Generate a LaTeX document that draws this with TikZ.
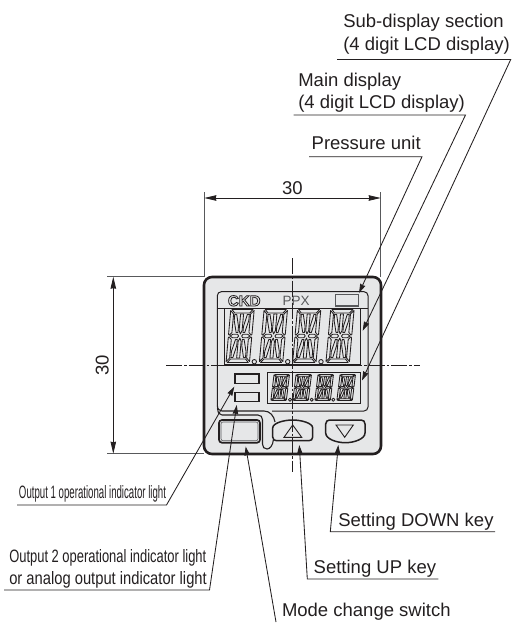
\documentclass[tikz,border=0pt]{standalone}
\usepackage{fontspec}
\setmainfont{Liberation Sans}
\usetikzlibrary{arrows.meta}
\definecolor{ink}{HTML}{231F20}
\definecolor{panel}{HTML}{E6E7E8}
\definecolor{soft}{HTML}{58595B}
\tikzset{
  leader/.style={draw=ink,line width=0.85pt,line join=miter},
  tiparrow/.style={-{Stealth[length=9pt,width=5.5pt,inset=0.5pt]}},
  dimline/.style={draw=ink,line width=0.85pt,{Stealth[length=12pt,width=5.5pt,inset=0.5pt]}-{Stealth[length=12pt,width=5.5pt,inset=0.5pt]}},
  witness/.style={draw=soft,line width=1pt},
  centerline/.style={draw=ink,line width=0.85pt,dash pattern=on 16pt off 2pt on 2.5pt off 2pt},
  lbl/.style={inner sep=0pt,outer sep=0pt,anchor=base west,text=ink,font=\fontsize{18.5}{22}\selectfont},
  seg/.style={draw=ink,line width=0.85pt,line join=round},
}
\newcommand{\segdigit}[4]{%
\begin{scope}[shift={(#1,#2)},xscale=#3,yscale=#4,xslant=0.09]
\draw[seg] (2,0)--(23,0)--(20,3.5)--(5,3.5)--cycle;
\draw[seg] (2,53)--(23,53)--(20,49.5)--(5,49.5)--cycle;
\draw[seg] (0.8,1)--(4,4.5)--(4,23)--(1.6,25.6)--(0.8,24.8)--cycle;
\draw[seg] (24.2,1)--(21,4.5)--(21,23)--(23.4,25.6)--(24.2,24.8)--cycle;
\draw[seg] (0.8,52)--(4,48.5)--(4,30)--(1.6,27.4)--(0.8,28.2)--cycle;
\draw[seg] (24.2,52)--(21,48.5)--(21,30)--(23.4,27.4)--(24.2,28.2)--cycle;
\draw[seg] (2.6,26.5)--(5,24.8)--(9.8,24.8)--(11,26.5)--(9.8,28.2)--(5,28.2)--cycle;
\draw[seg] (22.4,26.5)--(20,24.8)--(15.2,24.8)--(14,26.5)--(15.2,28.2)--(20,28.2)--cycle;
\draw[seg] (11,4.5)--(14,4.5)--(14,21)--(12.5,24.5)--(11,21)--cycle;
\draw[seg] (11,48.5)--(14,48.5)--(14,32)--(12.5,28.5)--(11,32)--cycle;
\draw[seg] (5.2,5)--(7.2,5)--(10,17)--(10,23)--(8.2,23)--(5.2,11)--cycle;
\draw[seg] (19.8,5)--(17.8,5)--(15,17)--(15,23)--(16.8,23)--(19.8,11)--cycle;
\draw[seg] (5.2,48)--(7.2,48)--(10,36)--(10,30)--(8.2,30)--(5.2,42)--cycle;
\draw[seg] (19.8,48)--(17.8,48)--(15,36)--(15,30)--(16.8,30)--(19.8,42)--cycle;
\end{scope}}
\begin{document}
\begin{tikzpicture}[x=1pt,y=-1pt]
\useasboundingbox (0,0) rectangle (514,623);
% body
\draw[fill=panel,draw=ink,line width=2.6pt,rounded corners=8pt] (204,277) rectangle (381,454);
% panel
\draw[draw=ink,line width=1pt,rounded corners=4pt] (217.3,405) -- (217.3,291.7) -- (368,291.7) -- (368,411) -- (272,411);
\draw[draw=ink,line width=1pt] (217.3,308.3) -- (368,308.3);
% tab around mode key
\draw[draw=ink,line width=1.1pt] (217.3,405) .. controls (217.3,409) and (219,411) .. (222,411) -- (264,411) .. controls (270,411) and (274,416) .. (275,422);
\draw[draw=ink,line width=1.1pt] (217.5,408) .. controls (218,413) and (219,415) .. (222,415) -- (258,415) .. controls (261,415) and (262.5,417) .. (262.5,420) -- (262.5,444) .. controls (262.5,447) and (264,449) .. (267,449) .. controls (270,449) and (273,445) .. (273.3,440);
% main display
\draw[draw=ink,line width=1.2pt] (224.3,308.3) rectangle (360.7,365);
\foreach \n in {0,1,2,3} {\segdigit{230+33.3*\n}{309.5}{1}{1}}
\foreach \x in {254.3,287.7,321} {\draw[seg,fill=panel] (\x,361.7) circle[radius=2.2pt];}
% sub display
\draw[draw=ink,line width=1.1pt] (267.7,372.3) rectangle (360.7,403.7);
\foreach \n in {0,1,2,3} {\segdigit{273.5+22*\n}{374.5}{0.66}{0.49}}
\foreach \x in {290,311.7,333.3} {\draw[seg,fill=panel] (\x,399.7) circle[radius=1.6pt];}
% indicator lights
\draw[draw=ink,line width=1.3pt] (235,374) rectangle (259,383.3);
\draw[draw=ink,line width=1.3pt] (235,392.3) rectangle (259,401.3);
% unit box
\draw[draw=soft,line width=1.4pt] (335.7,294.3) rectangle (358.3,306);
% keys
\draw[draw=ink,line width=1.7pt,rounded corners=3pt] (219,420) rectangle (260,442.7);
\draw[draw=soft,line width=0.6pt,rounded corners=2pt] (221,422) rectangle (258,440.7);
\draw[draw=ink,line width=1.5pt] (272.7,428) .. controls (272.7,423) and (284,420) .. (292.7,420) .. controls (301,420) and (312.7,423) .. (312.7,428) -- (312.7,437) .. controls (312.7,439.5) and (311,440.7) .. (309,440.7) -- (276.5,440.7) .. controls (274.5,440.7) and (272.7,439.5) .. (272.7,437) -- cycle;
\draw[draw=ink,line width=0.9pt] (284,437.3) -- (292.7,425) -- (301.7,437.3) -- cycle;
\draw[draw=ink,line width=1.5pt] (325.7,424) .. controls (325.7,421.5) and (327.5,420) .. (329.5,420) -- (361,420) .. controls (363.5,420) and (365,421.5) .. (365,424) -- (365,433) .. controls (365,439) and (354,442.7) .. (345.3,442.7) .. controls (336.5,442.7) and (325.7,439) .. (325.7,433) -- cycle;
\draw[draw=ink,line width=0.9pt] (336,425) -- (353.3,425) -- (344.7,437.3) -- cycle;
% CKD and PPX
\node[lbl,font=\fontsize{15}{17}\bfseries\selectfont] (ckd) at (228,306) {\special{pdf:code 1 Tr 0.8 w}CKD\special{pdf:code 0 Tr 0.4 w}};
\node[lbl,text=soft,font=\fontsize{13.5}{15}\selectfont] (ppx) at (282.5,305) {PPX};
% centre lines
\coordinate (ct) at (292.3,258); \coordinate (cb) at (292.3,472);
\coordinate (cl) at (166,365); \coordinate (cr) at (420,365);
\draw[centerline] (ct) -- (cb);
\draw[centerline] (cl) -- (cr);
% dimensions
\coordinate (wa1) at (204.3,192); \coordinate (wa2) at (204.3,277);
\coordinate (wb1) at (380.7,192); \coordinate (wb2) at (380.7,277);
\coordinate (wc1) at (107,276.7); \coordinate (wc2) at (204,276.7);
\coordinate (wd1) at (107,453.7); \coordinate (wd2) at (204,453.7);
\draw[witness] (wa1) -- (wa2);
\draw[witness] (wb1) -- (wb2);
\draw[witness] (wc1) -- (wc2);
\draw[witness] (wd1) -- (wd2);
\coordinate (da) at (204.3,198); \coordinate (db) at (380.7,198);
\coordinate (dc) at (113.3,276.7); \coordinate (dd) at (113.3,453.7);
\draw[dimline] (da) -- (db);
\draw[dimline] (dc) -- (dd);
\node[lbl,anchor=base] (dimh) at (292.3,194) {30};
\node[lbl,anchor=base,rotate=90] (dimv) at (108.5,365) {30};
% labels
\node[lbl] (t1) at (343.3,27.3) {Sub-display section};
\node[lbl] (t2) at (343.3,50.7) {(4 digit LCD display)};
\node[lbl] (t3) at (298.3,86.7) {Main display};
\node[lbl] (t4) at (298.3,108.3) {(4 digit LCD display)};
\node[lbl] (t5) at (311.7,149) {Pressure unit};
\node[lbl] (t6) at (338.3,526) {Setting DOWN key};
\node[lbl] (t7) at (313.7,573.3) {Setting UP key};
\node[lbl] (t8) at (282,616.7) {Mode change switch};
\node[lbl] (t9) at (19,498.3) {\resizebox{147pt}{13pt}{Output 1 operational indicator light}};
\node[lbl] (t10) at (9.3,562.7) {\resizebox{197pt}{13pt}{Output 2 operational indicator light}};
\node[lbl] (t11) at (9.3,584.3) {\resizebox{197.5pt}{13pt}{or analog output indicator light}};
% leaders
\coordinate (a1) at (337,59.5); \coordinate (a2) at (510.7,59.5); \coordinate (a3) at (362,380.5);
\coordinate (b1) at (293.5,115); \coordinate (b2) at (465.5,115); \coordinate (b3) at (362.7,330.7);
\coordinate (c1) at (309,156.7); \coordinate (c2) at (422,156.7); \coordinate (c3) at (359,293);
\coordinate (d1) at (495,531.7); \coordinate (d2) at (330.3,531.7); \coordinate (d3) at (338.3,445);
\coordinate (e1) at (438.3,579); \coordinate (e2) at (307.3,579); \coordinate (e3) at (299.3,445);
\coordinate (f1) at (276,622); \coordinate (f3) at (245.7,446.5);
\coordinate (g1) at (17,505); \coordinate (g2) at (166.5,505); \coordinate (g3) at (234.3,386.7);
\coordinate (h1) at (4,590); \coordinate (h2) at (209.5,590); \coordinate (h3) at (236.7,405);
\draw[leader,tiparrow] (a1) -- (a2) -- (a3);
\draw[leader,tiparrow] (b1) -- (b2) -- (b3);
\draw[leader,tiparrow] (c1) -- (c2) -- (c3);
\draw[leader,tiparrow] (d1) -- (d2) -- (d3);
\draw[leader,tiparrow] (e1) -- (e2) -- (e3);
\draw[leader,tiparrow] (f1) -- (f3);
\draw[leader,tiparrow] (g1) -- (g2) -- (g3);
\draw[leader,tiparrow] (h1) -- (h2) -- (h3);
\end{tikzpicture}
\end{document}
